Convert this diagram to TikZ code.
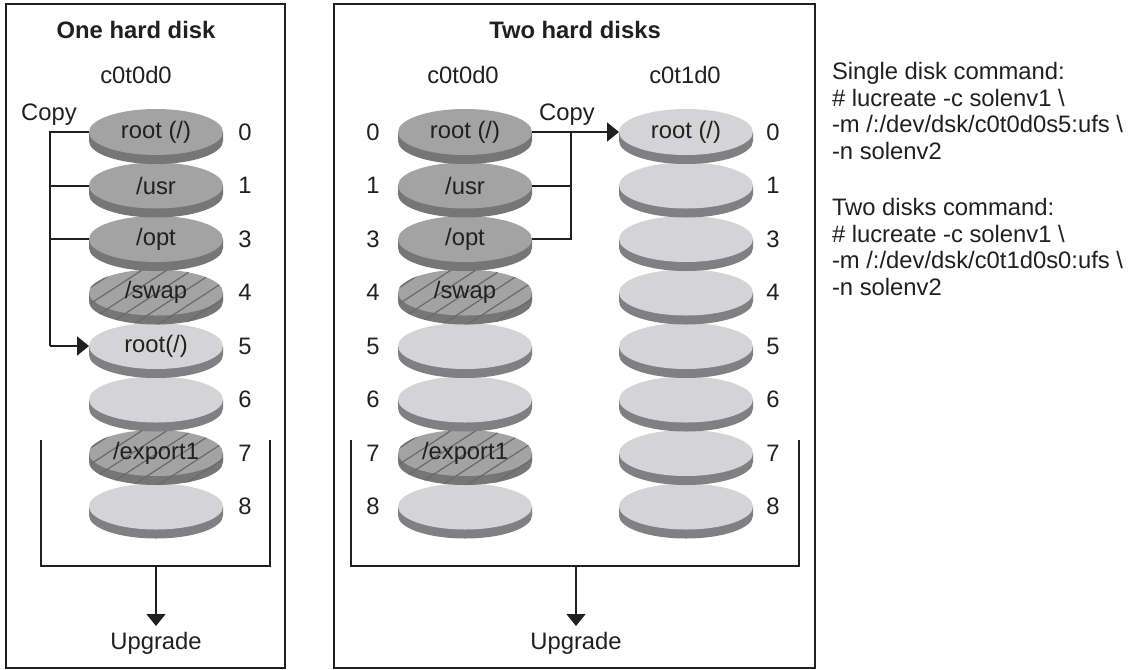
\documentclass[tikz,border=0pt]{standalone}
\usepackage{fontspec}
\setmainfont{Liberation Sans}
\usetikzlibrary{arrows.meta,shapes.geometric}
\definecolor{darktop}{RGB}{163,163,163}
\definecolor{darkside}{RGB}{118,118,118}
\definecolor{lighttop}{RGB}{212,212,214}
\definecolor{lightside}{RGB}{128,128,131}
\definecolor{hatchcol}{RGB}{105,105,105}
\definecolor{ink}{RGB}{35,31,32}
\newcommand\tfont{\fontsize{11.9pt}{13.25pt}\selectfont}
\newcommand\diskbody[4]{%
  \fill[#4] (#1-67,#2) -- (#1-67,#2+9) arc[start angle=180,end angle=360,x radius=33.5pt,y radius=11.5pt] -- (#1+67,#2) -- cycle;
  \fill[#3] (#1,#2) ellipse [x radius=33.5pt, y radius=11.5pt];
}
\newcommand\hatchdisk[2]{%
  \begin{scope}
    \clip (#1-67,#2) -- (#1-67,#2+9) arc[start angle=180,end angle=360,x radius=33.5pt,y radius=11.5pt] -- (#1+67,#2) arc[start angle=0,end angle=180,x radius=33.5pt,y radius=11.5pt] -- cycle;
    \foreach \k in {-5,...,6} \draw[hatchline] ({#1+\k*25-60},{#2+40}) -- ++(100,-65);
  \end{scope}
}
% name, x, y, kind (d/l/h), text
\newcommand\mkdisk[5]{%
  \if#4l\diskbody{#2}{#3}{lighttop}{lightside}\else\diskbody{#2}{#3}{darktop}{darkside}\fi
  \if#4h\hatchdisk{#2}{#3}\fi
  \node[disk] (#1) at (#2,#3) {#5};
}
\begin{document}
\begin{tikzpicture}[x=0.5pt,y=-0.5pt,
  every node/.style={font=\tfont, text=ink, inner sep=0pt, outer sep=0pt},
  disk/.style={ellipse, minimum width=67pt, minimum height=23pt},
  ttl/.style={font=\tfont\bfseries},
  panel/.style={draw=ink, line width=1.25pt},
  conn/.style={draw=ink, line width=1pt},
  brk/.style={draw=ink, line width=0.65pt},
  tip/.style={-{Triangle[length=6pt,width=9.5pt]}},
  hatchline/.style={draw=hatchcol, line width=0.6pt}]
\fill[white] (0,0) rectangle (1131,670);
\useasboundingbox (0,0) rectangle (1131,670);
% panels
\draw[panel] (6,4) rectangle (285,668);
\draw[panel] (334,4) rectangle (815,668);
% titles
\node[ttl] (t1) at (136,30) {One hard disk};
\node[ttl] (t2) at (575,30) {Two hard disks};
\node (d1) at (136,75) {c0t0d0};
\node (d2) at (463,75) {c0t0d0};
\node (d3) at (685,75) {c0t1d0};
% left disks (bottom to top)
\mkdisk{L8}{156}{506.5}{l}{}
\mkdisk{L7}{156}{453}{h}{/export1}
\mkdisk{L6}{156}{399.5}{l}{}
\mkdisk{L5}{156}{346}{l}{root(/)}
\mkdisk{L4}{156}{292.5}{h}{/swap}
\mkdisk{L3}{156}{239}{d}{/opt}
\mkdisk{L1}{156}{185.5}{d}{/usr}
\mkdisk{L0}{156}{132}{d}{root (/)}
% middle disks
\mkdisk{M8}{465}{506.5}{l}{}
\mkdisk{M7}{465}{453}{h}{/export1}
\mkdisk{M6}{465}{399.5}{l}{}
\mkdisk{M5}{465}{346}{l}{}
\mkdisk{M4}{465}{292.5}{h}{/swap}
\mkdisk{M3}{465}{239}{d}{/opt}
\mkdisk{M1}{465}{185.5}{d}{/usr}
\mkdisk{M0}{465}{132}{d}{root (/)}
% right disks
\mkdisk{R8}{686}{506.5}{l}{}
\mkdisk{R7}{686}{453}{l}{}
\mkdisk{R6}{686}{399.5}{l}{}
\mkdisk{R5}{686}{346}{l}{}
\mkdisk{R4}{686}{292.5}{l}{}
\mkdisk{R3}{686}{239}{l}{}
\mkdisk{R1}{686}{185.5}{l}{}
\mkdisk{R0}{686}{132}{l}{root (/)}
% slice numbers
\foreach \n/\y in {0/132,1/185.5,3/239,4/292.5,5/346,6/399.5,7/453,8/506.5}{
  \node (nl\n) at (245,\y) {\n};
  \node (nm\n) at (373,\y) {\n};
  \node (nr\n) at (773,\y) {\n};
}
% copy labels
\node (c1) at (49,115) {Copy};
\node (c2) at (567,115) {Copy};
% left copy connectors
\coordinate (lbus) at (50,132);
\draw[conn] (L0.west) -- (L0.west -| lbus) -- (L5.west -| lbus);
\draw[conn] (L1.west) -- (L1.west -| lbus);
\draw[conn] (L3.west) -- (L3.west -| lbus);
\draw[conn,tip] (L5.west -| lbus) -- (L5.west);
% middle copy connectors
\coordinate (mbus) at (571,132);
\draw[conn,tip] (M0.east) -- (R0.west);
\draw[conn] (M3.east) -- (M3.east -| mbus) -- (M0.east -| mbus);
\draw[conn] (M1.east) -- (M1.east -| mbus);
% brackets
\draw[brk] (41,440) -- (41,566) -- (270,566) -- (270,440);
\draw[brk] (351,440) -- (351,566) -- (799,566) -- (799,440);
% upgrade
\node[anchor=north, inner ysep=3pt] (u1) at (156,626) {Upgrade};
\node[anchor=north, inner ysep=3pt] (u2) at (576,626) {Upgrade};
\coordinate (b1) at (156,566);
\coordinate (b2) at (576,566);
\draw[brk,tip] (b1) -- (u1.north);
\draw[brk,tip] (b2) -- (u2.north);
% commands
\node[anchor=north west, align=left] (cmd1) at (832,62.6) {Single disk command:\\\# lucreate -c solenv1 \textbackslash\\-m /:/dev/dsk/c0t0d0s5:ufs \textbackslash\\-n solenv2};
\node[anchor=north west, align=left] (cmd2) at (832,198.6) {Two disks command:\\\# lucreate -c solenv1 \textbackslash\\-m /:/dev/dsk/c0t1d0s0:ufs \textbackslash\\-n solenv2};
\end{tikzpicture}
\end{document}
